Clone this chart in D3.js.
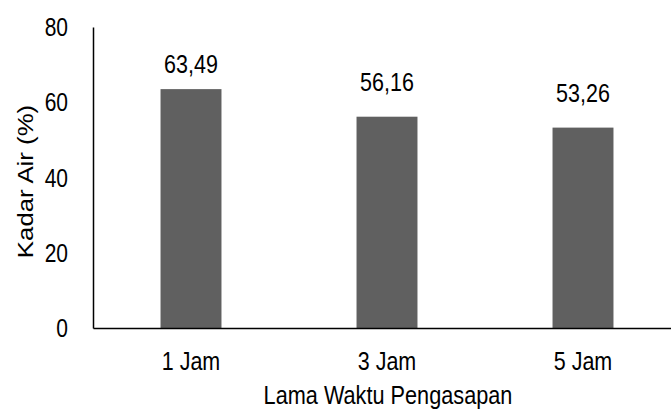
<!DOCTYPE html>
<html>
<head>
<meta charset="utf-8">
<script src="https://cdn.jsdelivr.net/npm/d3@7"></script>
<style>
  html, body { margin: 0; padding: 0; background: #fff; }
  svg text { font-family: "Liberation Sans", Arial, sans-serif; fill: #000; }
</style>
</head>
<body>
<svg id="chart" width="671" height="411"></svg>
<script>
// Moisture content by smoking duration
const categories = ["1 Jam", "3 Jam", "5 Jam"];
const kadarAir = [63.49, 56.16, 53.26];
const yTicks = [0, 20, 40, 60, 80];
const xTitle = "Lama Waktu Pengasapan";
const yTitle = "Kadar Air (%)";

const svg = d3.select("#chart");
const plot = { left: 93, right: 681, top: 27, bottom: 328 };
const tall = 1.22;        // lettering is drawn slightly condensed / tall
const CAP = 0.716;        // cap height of the sans face, in em

const x = d3.scaleBand()
  .domain(categories)
  .range([plot.left, plot.right])
  .paddingInner(0.689)
  .paddingOuter(0.3445);

const y = d3.scaleLinear().domain([0, 80]).range([plot.bottom, plot.top]);

const fmt = v => d3.format(".2f")(v).replace(".", ",");

// text helper: baseline placed at (px, py), stretched vertically
function label(g, px, py, txt, size, anchor, k = tall) {
  return g.append("text")
    .attr("transform", `translate(${px},${py}) scale(1,${k})`)
    .attr("text-anchor", anchor)
    .attr("font-size", size)
    .text(txt);
}

// bars
svg.append("g").selectAll("rect")
  .data(categories.map((c, i) => ({ c, v: kadarAir[i] })))
  .join("rect")
  .attr("x", d => x(d.c))
  .attr("y", d => y(d.v))
  .attr("width", x.bandwidth())
  .attr("height", d => y(0) - y(d.v))
  .attr("fill", "#606060");

// value labels above bars (first one sits a little closer)
const labelGap = [16, 26, 26];
const valG = svg.append("g");
kadarAir.forEach((v, i) => {
  label(valG, x(categories[i]) + x.bandwidth() / 2, y(v) - labelGap[i], fmt(v), 21.5, "middle");
});

// axis lines
const yAxis = svg.append("g")
  .attr("transform", `translate(${plot.left},0)`)
  .call(d3.axisLeft(y).tickValues(yTicks).tickSize(0).tickFormat(""));
yAxis.select(".domain").attr("stroke", "#000").attr("stroke-width", 1.5);

const xAxis = svg.append("g")
  .attr("transform", `translate(0,${plot.bottom})`)
  .call(d3.axisBottom(x).tickSize(0).tickFormat(""));
xAxis.select(".domain").attr("stroke", "#000").attr("stroke-width", 1.5);

// y tick labels
const yTickG = svg.append("g");
const yTickSize = 21;
yTicks.forEach(t => {
  label(yTickG, 68, y(t) + CAP * yTickSize * tall / 2, t, yTickSize, "end");
});

// category labels
const xTickG = svg.append("g");
categories.forEach(c => {
  label(xTickG, x(c) + x.bandwidth() / 2, 370, c, 21.5, "middle");
});

// axis titles
label(svg, (plot.left + plot.right) / 2 + 1, 404, xTitle, 21.7, "middle", 1.15);

svg.append("text")
  .attr("transform", `translate(32.5,${(plot.top + plot.bottom) / 2 + 4}) rotate(-90) scale(1.2,1)`)
  .attr("text-anchor", "middle")
  .attr("font-size", 21.5)
  .text(yTitle);
</script>
</body>
</html>
